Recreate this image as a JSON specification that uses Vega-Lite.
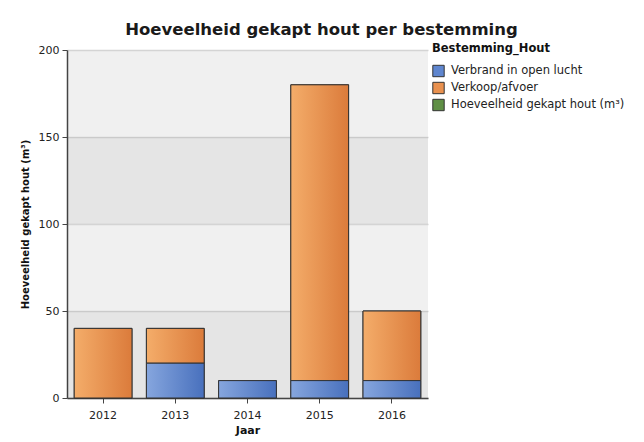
{
  "$schema": "https://vega.github.io/schema/vega-lite/v6.json",
  "width": 361,
  "height": 348,
  "autosize": {"type": "none"},
  "padding": {"left": 67, "top": 50, "right": 216, "bottom": 44},
  "background": "white",
  "config": {
    "view": {"fill": "#f0f0f0", "stroke": null},
    "font": "DejaVu Sans"
  },
  "title": {
    "text": "Hoeveelheid gekapt hout per bestemming",
    "fontSize": 16.5,
    "font": "DejaVu Sans",
    "fontWeight": "bold",
    "color": "#1a1a1a",
    "anchor": "middle",
    "dx": 74,
    "offset": 5
  },
  "datasets": {
    "hout": [
      {"Jaar": "2012", "Bestemming_Hout": "Verkoop/afvoer", "waarde": 40},
      {"Jaar": "2013", "Bestemming_Hout": "Verbrand in open lucht", "waarde": 20},
      {"Jaar": "2013", "Bestemming_Hout": "Verkoop/afvoer", "waarde": 20},
      {"Jaar": "2014", "Bestemming_Hout": "Verbrand in open lucht", "waarde": 10},
      {"Jaar": "2015", "Bestemming_Hout": "Verbrand in open lucht", "waarde": 10},
      {"Jaar": "2015", "Bestemming_Hout": "Verkoop/afvoer", "waarde": 170},
      {"Jaar": "2016", "Bestemming_Hout": "Verbrand in open lucht", "waarde": 10},
      {"Jaar": "2016", "Bestemming_Hout": "Verkoop/afvoer", "waarde": 40}
    ],
    "banden": [
      {"van": 0, "tot": 50},
      {"van": 100, "tot": 150}
    ]
  },
  "layer": [
    {
      "data": {"name": "banden"},
      "mark": {"type": "rect", "fill": "#000000", "opacity": 0.045},
      "encoding": {
        "y": {
          "field": "van",
          "type": "quantitative",
          "scale": {"domain": [0, 200], "nice": false},
          "axis": {
            "title": "Hoeveelheid gekapt hout (m³)",
            "titleFontSize": 10,
            "titleFontWeight": "bold",
            "titleColor": "#111111",
            "titlePadding": 8,
            "values": [0, 50, 100, 150, 200],
            "labelFontSize": 11,
            "labelColor": "#222222",
            "labelPadding": 3,
            "tickSize": 5,
            "tickColor": "#444444",
            "domainColor": "#444444",
            "domainWidth": 1.5,
            "grid": true,
            "gridColor": "#d4d4d4",
            "gridWidth": 1.5
          }
        },
        "y2": {"field": "tot"}
      }
    },
    {
      "data": {"name": "hout"},
      "transform": [
        {"stack": "waarde", "groupby": ["Jaar"], "sort": [{"field": "Bestemming_Hout", "order": "ascending"}], "as": ["y0", "y1"]}
      ],
      "mark": {"type": "bar", "stroke": "#333333", "strokeWidth": 1},
      "encoding": {
        "x": {
          "field": "Jaar",
          "type": "ordinal",
          "scale": {"paddingInner": 0.2, "paddingOuter": 0.1},
          "axis": {
            "title": "Jaar",
            "titleFontSize": 11,
            "titleFontWeight": "bold",
            "titleColor": "#111111",
            "titlePadding": 4,
            "labelAngle": 0,
            "labelFontSize": 11,
            "labelColor": "#222222",
            "labelPadding": 6,
            "tickSize": 5,
            "tickColor": "#444444",
            "domainColor": "#444444",
            "domainWidth": 1.5
          }
        },
        "y": {"field": "y0", "type": "quantitative"},
        "y2": {"field": "y1"},
        "color": {
          "field": "Bestemming_Hout",
          "type": "nominal",
          "scale": {
            "domain": ["Verbrand in open lucht", "Verkoop/afvoer", "Hoeveelheid gekapt hout (m³)"],
            "range": ["#5f86cf", "#e9914f", "#5f8f45"]
          },
          "legend": {
            "title": "Bestemming_Hout",
            "orient": "none",
            "legendX": 365,
            "legendY": -7,
            "titleFontSize": 11.5,
            "titleFontWeight": "bold",
            "titleColor": "#111111",
            "titlePadding": 10,
            "titleLimit": 300,
            "labelFontSize": 11.5,
            "labelColor": "#222222",
            "labelLimit": 300,
            "symbolType": "square",
            "symbolSize": 130,
            "symbolStrokeColor": "#333333",
            "symbolStrokeWidth": 1,
            "symbolOpacity": 1,
            "rowPadding": 0,
            "labelOffset": 6
          }
        }
      }
    },
    {
      "data": {"name": "hout"},
      "transform": [
        {"stack": "waarde", "groupby": ["Jaar"], "sort": [{"field": "Bestemming_Hout", "order": "ascending"}], "as": ["y0", "y1"]},
        {"filter": "datum.Bestemming_Hout === 'Verkoop/afvoer'"}
      ],
      "mark": {
        "type": "bar",
        "stroke": "#333333",
        "strokeWidth": 1,
        "fill": {
          "gradient": "linear",
          "x1": 0, "x2": 1, "y1": 0, "y2": 0,
          "stops": [
            {"offset": 0, "color": "#f4ad6a"},
            {"offset": 1, "color": "#db7b3b"}
          ]
        }
      },
      "encoding": {
        "x": {"field": "Jaar", "type": "ordinal"},
        "y": {"field": "y0", "type": "quantitative"},
        "y2": {"field": "y1"}
      }
    },
    {
      "data": {"name": "hout"},
      "transform": [
        {"stack": "waarde", "groupby": ["Jaar"], "sort": [{"field": "Bestemming_Hout", "order": "ascending"}], "as": ["y0", "y1"]},
        {"filter": "datum.Bestemming_Hout === 'Verbrand in open lucht'"}
      ],
      "mark": {
        "type": "bar",
        "stroke": "#333333",
        "strokeWidth": 1,
        "fill": {
          "gradient": "linear",
          "x1": 0, "x2": 1, "y1": 0, "y2": 0,
          "stops": [
            {"offset": 0, "color": "#86a6de"},
            {"offset": 1, "color": "#4870bd"}
          ]
        }
      },
      "encoding": {
        "x": {"field": "Jaar", "type": "ordinal"},
        "y": {"field": "y0", "type": "quantitative"},
        "y2": {"field": "y1"}
      }
    }
  ]
}
